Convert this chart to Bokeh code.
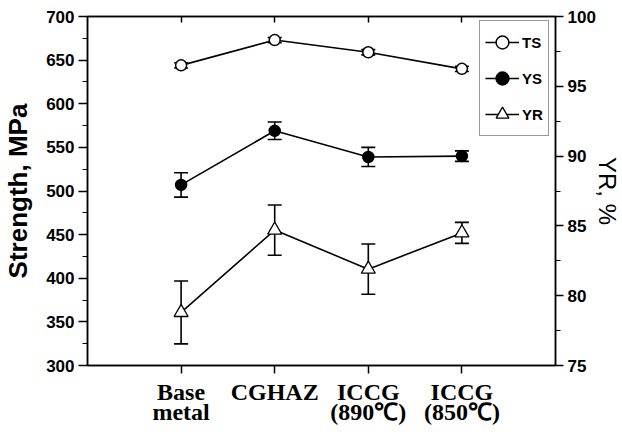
from bokeh.plotting import figure
from bokeh.models import (Range1d, LinearAxis, FixedTicker, ColumnDataSource, Whisker,
                          TeeHead, Legend, LegendItem)
from bokeh.embed import file_html
from bokeh.resources import INLINE

# ---- data ----
categories = ["Base\nmetal", "CGHAZ", "ICCG\n(890\u2103)", "ICCG\n(850\u2103)"]
x_pos = [0, 1, 2, 3]
ts = [644, 673, 659, 640]
ts_err = [3, 3, 3, 3]
ys = [507, 569, 539, 540]
ys_err = [14, 10, 11, 6]
yr = [78.8, 84.7, 81.9, 84.5]
yr_err = [2.25, 1.8, 1.8, 0.75]
left_ticks = [300, 350, 400, 450, 500, 550, 600, 650, 700]
left_minor = [325, 375, 425, 475, 525, 575, 625, 675]
right_ticks = [75, 80, 85, 90, 95, 100]
right_minor = [77.5, 82.5, 87.5, 92.5, 97.5]

p = figure(frame_width=468, frame_height=349, output_backend="svg", toolbar_location=None,
           x_range=Range1d(-1, 4), y_range=Range1d(300, 700),
           min_border_left=79, min_border_right=52, min_border_top=16, min_border_bottom=60)
p.extra_y_ranges = {"yr": Range1d(75, 100)}
p.grid.visible = False
p.outline_line_color = "black"
p.outline_line_width = 1.5
p.background_fill_color = "white"
p.border_fill_color = "white"

tick_font = "Liberation Sans"

# left axis
ax = p.yaxis[0]
ax.ticker = FixedTicker(ticks=left_ticks, minor_ticks=left_minor)
ax.axis_label = "Strength, MPa"
ax.axis_label_text_font = tick_font
ax.axis_label_text_font_style = "bold"
ax.axis_label_text_font_size = "26px"
ax.axis_label_text_color = "black"
ax.axis_label_standoff = 10
ax.major_label_text_font = tick_font
ax.major_label_text_font_style = "bold"
ax.major_label_text_font_size = "17px"
ax.major_label_text_color = "black"
ax.major_tick_out = 9
ax.major_tick_in = 0
ax.minor_tick_out = 5
ax.minor_tick_in = 0
ax.major_label_standoff = 4
ax.axis_line_width = 1.5
ax.major_tick_line_width = 1.5

# bottom axis
bx = p.xaxis[0]
bx.ticker = FixedTicker(ticks=x_pos)
bx.major_label_overrides = {x: c for x, c in zip(x_pos, categories)}
bx.major_label_text_font = "Liberation Serif"
bx.major_label_text_font_style = "bold"
bx.major_label_text_font_size = "24px"
bx.major_label_text_line_height = 0.8
bx.major_label_text_color = "black"
bx.major_tick_out = 8
bx.major_tick_in = 0
bx.minor_tick_out = 0
bx.major_label_standoff = 5
bx.axis_line_width = 1.5
bx.major_tick_line_width = 1.5

# top axis (mirror ticks)
top = LinearAxis(ticker=FixedTicker(ticks=x_pos), major_label_text_font_size="0px",
                 major_tick_in=6, major_tick_out=0, minor_tick_out=0, axis_line_width=1.5,
                 major_tick_line_width=1.5, major_label_standoff=0)
top.major_label_overrides = {x: "" for x in x_pos}
p.add_layout(top, "above")

# right axis
rax = LinearAxis(y_range_name="yr", ticker=FixedTicker(ticks=right_ticks, minor_ticks=right_minor))
rax.axis_label = "YR, %"
rax.axis_label_text_font = tick_font
rax.axis_label_text_font_style = "normal"
rax.axis_label_text_font_size = "24px"
rax.axis_label_text_color = "black"
rax.axis_label_standoff = -5
rax.major_label_text_font = tick_font
rax.major_label_text_font_style = "bold"
rax.major_label_text_font_size = "17px"
rax.major_label_text_color = "black"
rax.major_tick_out = 8
rax.major_tick_in = 0
rax.minor_tick_out = 5
rax.minor_tick_in = 0
rax.major_label_standoff = 4
rax.axis_line_width = 1.5
rax.major_tick_line_width = 1.5
p.add_layout(rax, "right")

src = ColumnDataSource(dict(
    x=x_pos, ts=ts, ys=ys, yr=yr,
    ts_lo=[v - e for v, e in zip(ts, ts_err)], ts_hi=[v + e for v, e in zip(ts, ts_err)],
    ys_lo=[v - e for v, e in zip(ys, ys_err)], ys_hi=[v + e for v, e in zip(ys, ys_err)],
    yr_lo=[v - e for v, e in zip(yr, yr_err)], yr_hi=[v + e for v, e in zip(yr, yr_err)],
))

lw = 1.6
l_ts = p.line("x", "ts", source=src, line_color="black", line_width=lw)
l_ys = p.line("x", "ys", source=src, line_color="black", line_width=lw)
l_yr = p.line("x", "yr", source=src, line_color="black", line_width=lw, y_range_name="yr")

def whisk(lo, hi, rng="default"):
    w = Whisker(base="x", lower=lo, upper=hi, source=src, line_color="black", line_width=lw,
                upper_head=TeeHead(size=14, line_width=lw, line_color="black"),
                lower_head=TeeHead(size=14, line_width=lw, line_color="black"),
                y_range_name=rng)
    p.add_layout(w)

whisk("ts_lo", "ts_hi")
whisk("ys_lo", "ys_hi")
whisk("yr_lo", "yr_hi", "yr")

m_ts = p.scatter("x", "ts", source=src, marker="circle", size=11, line_color="black",
                 fill_color="white", line_width=1.5, level="overlay")
m_ys = p.scatter("x", "ys", source=src, marker="circle", size=11, line_color="black",
                 fill_color="black", line_width=1.5, level="overlay")
m_yr = p.scatter("x", "yr", source=src, marker="triangle", size=14, line_color="black",
                 fill_color="white", line_width=1.3, y_range_name="yr", level="overlay")

legend = Legend(items=[
    LegendItem(label="TS", renderers=[l_ts, m_ts]),
    LegendItem(label="YS", renderers=[l_ys, m_ys]),
    LegendItem(label="YR", renderers=[l_yr, m_yr]),
], location=(392, 229), padding=5, spacing=4, label_height=32, glyph_height=32, glyph_width=34,
   label_standoff=3, label_text_font=tick_font, label_text_font_style="bold",
   label_text_font_size="15px", label_text_color="black",
   border_line_color="#333333", border_line_width=1,
   background_fill_alpha=1.0, margin=0)
p.add_layout(legend, "center")

open("out.html", "w").write(file_html(p, INLINE))
